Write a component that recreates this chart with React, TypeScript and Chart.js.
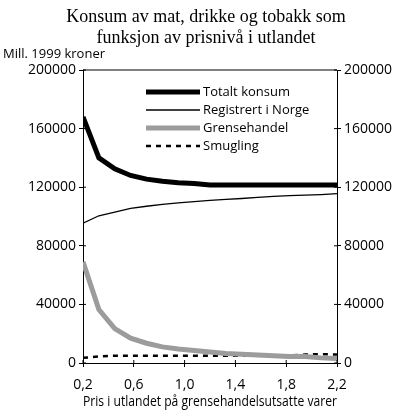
import { useRef, useEffect } from "react";
import { Chart, ChartOptions, Plugin } from "chart.js/auto";


const prices = [0.2, 0.325, 0.45, 0.575, 0.7, 0.825, 0.95, 1.075, 1.2, 1.325, 1.45, 1.575, 1.7, 1.825, 1.95, 2.075, 2.2];

const totalt = [168000, 140000, 132500, 128000, 125500, 124000, 123000, 122500, 121500, 121500, 121500, 121500, 121500, 121500, 121500, 121500, 121500];
const registrert = [95500, 100500, 103000, 105500, 107000, 108300, 109300, 110200, 111000, 111700, 112300, 113000, 113800, 114300, 114600, 115000, 115600];
const grensehandel = [69000, 36500, 23500, 17000, 13500, 11000, 9500, 8500, 7500, 6500, 6000, 5500, 5000, 4500, 4500, 3500, 3000];
const smugling = [3500, 4500, 5000, 5000, 5000, 5000, 5000, 5000, 5000, 5000, 5000, 5000, 5000, 5200, 5800, 6000, 5800];

const seriesNames = ["Totalt konsum", "Registrert i Norge", "Grensehandel", "Smugling"];
const titleLines = ["Konsum av mat, drikke og tobakk som", "funksjon av prisnivå i utlandet"];
const unitLabel = "Mill. 1999 kroner";
const xAxisLabel = "Pris i utlandet på grensehandelsutsatte varer";

const SANS = "'Open Sans', 'Liberation Sans', sans-serif";
const SERIF = "'Liberation Serif', 'DejaVu Serif', serif";

const pts = (vals: number[]) => vals.map((y, i) => ({ x: prices[i], y }));

// title, unit text, top border, inner tick marks and legend
const decorations: Plugin = {
  id: "decorations",
  afterDraw(chart) {
    const { ctx, chartArea } = chart;
    ctx.save();
    ctx.fillStyle = "#000";
    ctx.textAlign = "center";
    ctx.textBaseline = "middle";
    ctx.font = `18px ${SERIF}`;
    titleLines.forEach((t, i) => ctx.fillText(t, 206, 17 + i * 21));

    ctx.textAlign = "left";
    ctx.font = `13px ${SANS}`;
    ctx.fillText(unitLabel, 3, 54);

    ctx.strokeStyle = "#000";
    ctx.lineWidth = 1;
    ctx.beginPath();
    ctx.moveTo(chartArea.left, chartArea.top);
    ctx.lineTo(chartArea.right, chartArea.top);
    ctx.stroke();

    // short tick marks pointing into the plot
    const sx = chart.scales.x;
    const sy = chart.scales.y;
    ctx.beginPath();
    sx.ticks.forEach((t: any) => {
      const px = sx.getPixelForValue(t.value);
      ctx.moveTo(px, chartArea.bottom);
      ctx.lineTo(px, chartArea.bottom - 3);
    });
    sy.ticks.forEach((t: any) => {
      const py = sy.getPixelForValue(t.value);
      ctx.moveTo(chartArea.left, py);
      ctx.lineTo(chartArea.left + 3, py);
      ctx.moveTo(chartArea.right, py);
      ctx.lineTo(chartArea.right - 3, py);
    });
    ctx.stroke();

    // legend
    chart.data.datasets.forEach((ds: any, i) => {
      const y = 92 + i * 18;
      ctx.beginPath();
      ctx.strokeStyle = ds.borderColor;
      ctx.lineWidth = ds.borderWidth;
      ctx.setLineDash(ds.borderDash || []);
      ctx.moveTo(146, y);
      ctx.lineTo(200, y);
      ctx.stroke();
      ctx.setLineDash([]);
      ctx.fillStyle = "#000";
      ctx.font = `13px ${SANS}`;
      ctx.fillText(ds.label, 203, y);
    });
    ctx.restore();
  }
};


function ConsumptionChart() {
  const chartRef = useRef<HTMLCanvasElement>(null);

  useEffect(() => {
    if (!chartRef.current) return;

    const yTicks = {
      color: "#000",
      font: { family: SANS, size: 14 },
      padding: 3,
      stepSize: 40000,
      callback: (v: any) => String(v)
    };

    const options: ChartOptions<"line"> = {
      animation: false,
      responsive: true,
      maintainAspectRatio: false,
      layout: { padding: { top: 70, left: 0, right: 0, bottom: 0 } },
      plugins: {
        legend: { display: false },
        title: { display: false },
        tooltip: { enabled: false }
      },
      scales: {
        x: {
          type: "linear",
          min: 0.2,
          max: 2.2,
          border: { color: "#000", width: 1 },
          grid: { drawOnChartArea: false, color: "#000", tickLength: 4 },
          ticks: {
            color: "#000",
            font: { family: SANS, size: 14 },
            padding: 10,
            stepSize: 0.4,
            callback: (v: any) => Number(v).toFixed(1).replace(".", ",")
          },
          title: {
            display: true,
            text: xAxisLabel,
            color: "#000",
            font: { family: SANS, size: 13.6 },
            padding: { top: 0, bottom: 10 }
          },
          afterFit: (s: any) => { s.height = 57; }
        },
        y: {
          position: "left",
          min: 0,
          max: 200000,
          border: { color: "#000", width: 1 },
          grid: { drawOnChartArea: false, color: "#000", tickLength: 4 },
          ticks: yTicks,
          afterFit: (s: any) => { s.width = 83; }
        },
        y2: {
          position: "right",
          min: 0,
          max: 200000,
          border: { color: "#000", width: 1 },
          grid: { drawOnChartArea: false, color: "#000", tickLength: 4 },
          ticks: yTicks,
          afterFit: (s: any) => { s.width = 70; }
        }
      },
      elements: { point: { radius: 0 }, line: { tension: 0 } }
    };

    const chart = new Chart(chartRef.current, {
      type: "line",
      data: {
        datasets: [
          { label: seriesNames[0], data: pts(totalt), borderColor: "#000", borderWidth: 5 },
          { label: seriesNames[1], data: pts(registrert), borderColor: "#000", borderWidth: 1.3 },
          { label: seriesNames[2], data: pts(grensehandel), borderColor: "#9c9c9c", borderWidth: 5 },
          { label: seriesNames[3], data: pts(smugling), borderColor: "#000", borderWidth: 2.5, borderDash: [5, 5] }
        ]
      },
      options,
      plugins: [decorations]
    });

    return () => chart.destroy();
  }, []);

  return (
    <div style={{ position: "fixed", left: 0, top: 0, width: 407, height: 420, background: "#fff" }}>
      <canvas ref={chartRef}></canvas>
    </div>
  );
}


export default function App() {
  return <ConsumptionChart />;
}
